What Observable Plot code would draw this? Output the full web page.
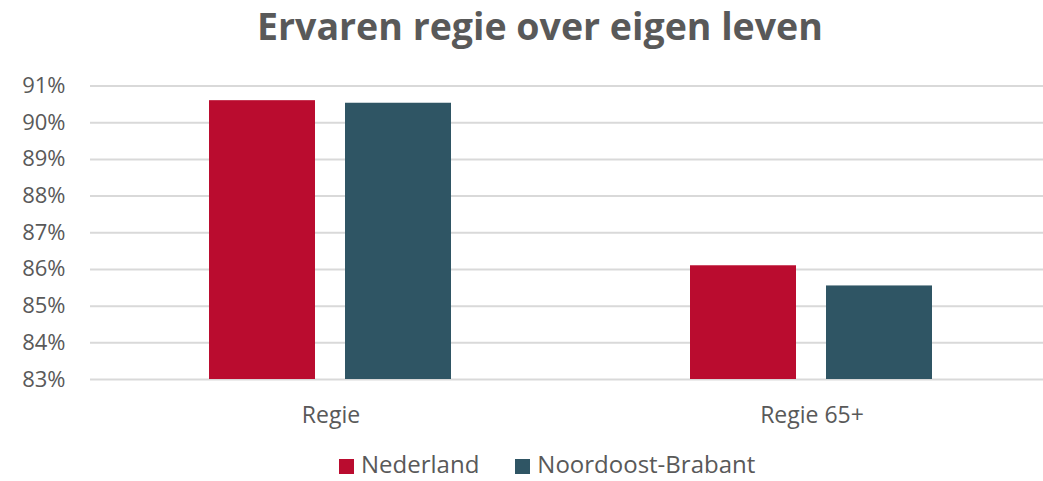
<!DOCTYPE html>
<html>
<head>
<meta charset="utf-8">
<script src="https://cdn.jsdelivr.net/npm/d3@7"></script>
<script src="https://cdn.jsdelivr.net/npm/@observablehq/plot@0.6"></script>
<style>
  html, body { margin: 0; padding: 0; background: #fff; }
  #wrap { position: relative; width: 1043px; height: 481px; overflow: hidden; font-family: "Open Sans", sans-serif; color: #595959; }
  #title { position: absolute; left: 0; top: 0px; width: 1080px; text-align: center; font-size: 37.5px; font-weight: 700; color: #595959; white-space: nowrap; }
  #chart { position: absolute; left: 0; top: 0; width: 1052px; }
  #chart svg { max-width: none !important; }
  #legend { position: absolute; left: 339px; top: 452px; display: flex; gap: 36px; font-size: 24px; color: #595959; white-space: nowrap; line-height: 1; }
  .item { display: flex; align-items: center; gap: 7px; }
  .sw { width: 15px; height: 15px; display: inline-block; margin-top: 5px; }
</style>
</head>
<body>
<div id="wrap">
  <div id="title">Ervaren regie over eigen leven</div>
  <div id="chart"></div>
  <div id="legend"></div>
</div>
<script>
const categories = ["Regie", "Regie 65+"];
const series = ["Nederland", "Noordoost-Brabant"];
const nederland = [90.6, 86.1];
const noordoost = [90.53, 85.55];
const colors = ["#BA0C2F", "#2F5564"];
const yTicks = [83, 84, 85, 86, 87, 88, 89, 90, 91];

const data = [];
categories.forEach((c, i) => {
  data.push({cat: c, series: series[0], value: nederland[i]});
  data.push({cat: c, series: series[1], value: noordoost[i]});
});

const chart = Plot.plot({
  width: 1052,
  height: 440,
  marginTop: 85.5,
  marginBottom: 61,
  marginLeft: 89,
  marginRight: 0,
  style: {fontFamily: "Open Sans", fontSize: "22px", color: "#595959", background: "transparent"},
  fx: {domain: categories, padding: 0, label: null, axis: "bottom", tickSize: 0, tickPadding: 27},
  x: {domain: series, paddingInner: 0.219, paddingOuter: 0.865, axis: null},
  y: {domain: [83, 91], ticks: yTicks, tickFormat: d => d + "%", label: null, tickSize: 0, tickPadding: 25},
  color: {domain: series, range: colors},
  marks: [
    Plot.ruleY(yTicks, {stroke: "#D9D9D9", strokeWidth: 2}),
    Plot.barY(data, {fx: "cat", x: "series", y1: 83, y2: "value", fill: "series"})
  ]
});
chart.querySelectorAll("g[aria-label='fx-axis tick label'] text, g[aria-label='fx-axis tick label']").forEach(el => el.setAttribute("font-size", "23"));
document.getElementById("chart").appendChild(chart);

const legend = document.getElementById("legend");
series.forEach((s, i) => {
  const item = document.createElement("div");
  item.className = "item";
  const sw = document.createElement("span");
  sw.className = "sw";
  sw.style.background = colors[i];
  const t = document.createElement("span");
  t.textContent = s;
  item.appendChild(sw);
  item.appendChild(t);
  legend.appendChild(item);
});
</script>
</body>
</html>
